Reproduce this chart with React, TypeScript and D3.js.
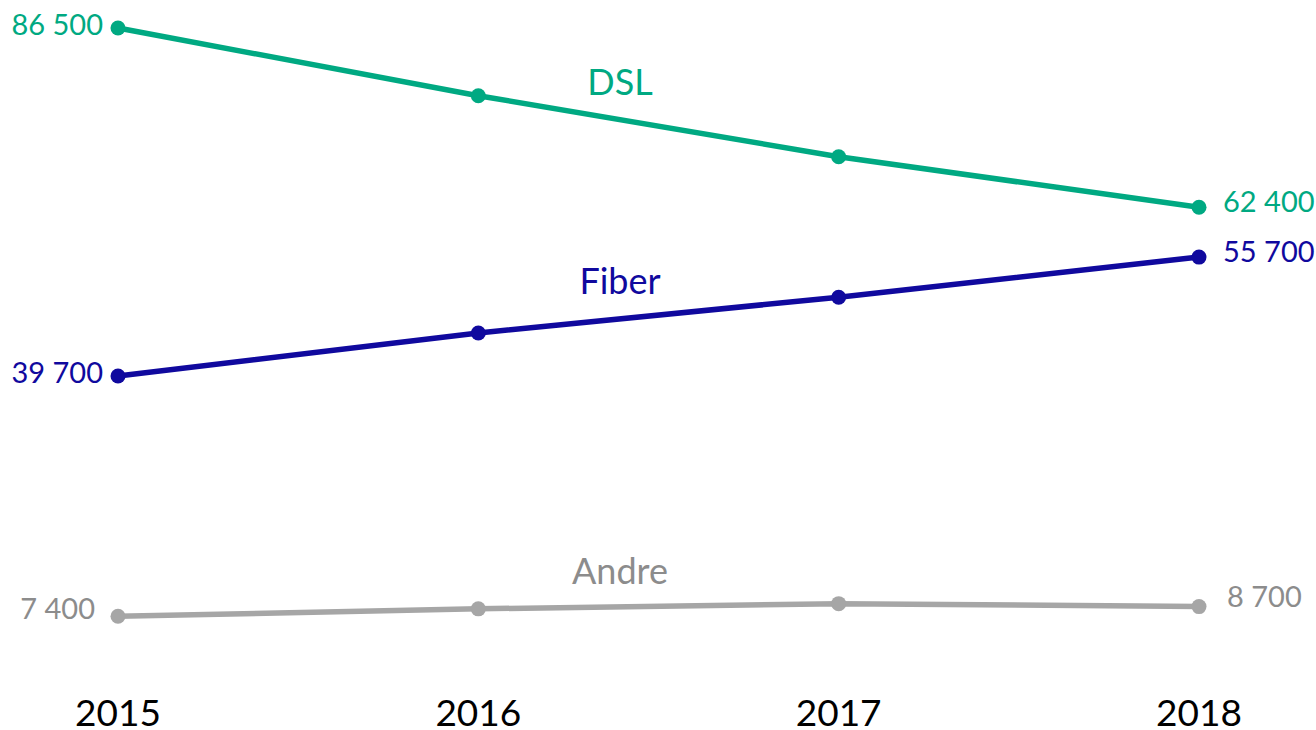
import React, { useRef, useEffect } from "react";
import * as d3 from "d3";

const years = ["2015", "2016", "2017", "2018"];
const dslValues = [86500, 77400, 69200, 62400];
const fiberValues = [39700, 45500, 50300, 55700];
const andreValues = [7400, 8400, 9100, 8700];
const seriesNames = ["DSL", "Fiber", "Andre"];
const seriesColors = ["#00A982", "#10099E", "#A6A6A6"];
const labelColors = ["#00A982", "#10099E", "#8C8C8C"];

const W = 1316;
const H = 730;
const FONT = "Lato, 'Open Sans', sans-serif";

const App = () => {
  const ref = useRef<SVGSVGElement>(null);

  useEffect(() => {
    const svg = d3.select(ref.current);
    svg.selectAll("*").remove();

    const fmt = d3.formatLocale({ decimal: ",", thousands: " ", grouping: [3], currency: ["", ""] }).format(",d");

    const x = d3.scalePoint().domain(years).range([118, 1199]);
    const y = d3.scaleLinear().domain([0, 90000]).range([671.3, 2]);

    const allSeries = [dslValues, fiberValues, andreValues];
    const line = d3.line<number>()
      .x((_, i) => x(years[i])!)
      .y(d => y(d));

    // series name baselines, centred a bit left of the 2016–2017 midpoint
    const nameY = [95, 294, 584];
    const nameX = 620;

    allSeries.forEach((vals, si) => {
      const g = svg.append("g");
      g.append("path")
        .attr("d", line(vals))
        .attr("fill", "none")
        .attr("stroke", seriesColors[si])
        .attr("stroke-width", 5.5)
        .attr("stroke-linejoin", "round");

      g.selectAll("circle")
        .data(vals)
        .join("circle")
        .attr("cx", (_, i) => x(years[i])!)
        .attr("cy", d => y(d))
        .attr("r", 7.5)
        .attr("fill", seriesColors[si]);

      g.append("text")
        .attr("x", nameX)
        .attr("y", nameY[si])
        .attr("text-anchor", "middle")
        .style("font-family", FONT)
        .style("font-size", "36px")
        .attr("fill", labelColors[si])
        .text(seriesNames[si]);

      const first = vals[0];
      const last = vals[vals.length - 1];
      const isAndre = si === 2;
      g.append("text")
        .attr("x", x(years[0])! - (isAndre ? 23 : 15))
        .attr("y", y(first) + (isAndre ? -9 : -5))
        .attr("text-anchor", "end")
        .attr("dominant-baseline", "central")
        .style("font-family", FONT)
        .style("font-size", "29px")
        .attr("fill", labelColors[si])
        .text(fmt(first));

      g.append("text")
        .attr("x", x(years[years.length - 1])! + (isAndre ? 28 : 24))
        .attr("y", y(last) + (isAndre ? -11 : -7))
        .attr("text-anchor", "start")
        .attr("dominant-baseline", "central")
        .style("font-family", FONT)
        .style("font-size", "29px")
        .attr("fill", labelColors[si])
        .text(fmt(last));
    });

    svg.append("g")
      .selectAll("text")
      .data(years)
      .join("text")
      .attr("x", d => x(d)!)
      .attr("y", 726)
      .attr("text-anchor", "middle")
      .style("font-family", FONT)
      .style("font-size", "37px")
      .attr("fill", "#000000")
      .text(d => d);
  }, []);

  return (
    <svg
      ref={ref}
      width={W}
      height={H}
      style={{ position: "absolute", left: 0, top: 0, background: "#ffffff" }}
    />
  );
};

export default App;
